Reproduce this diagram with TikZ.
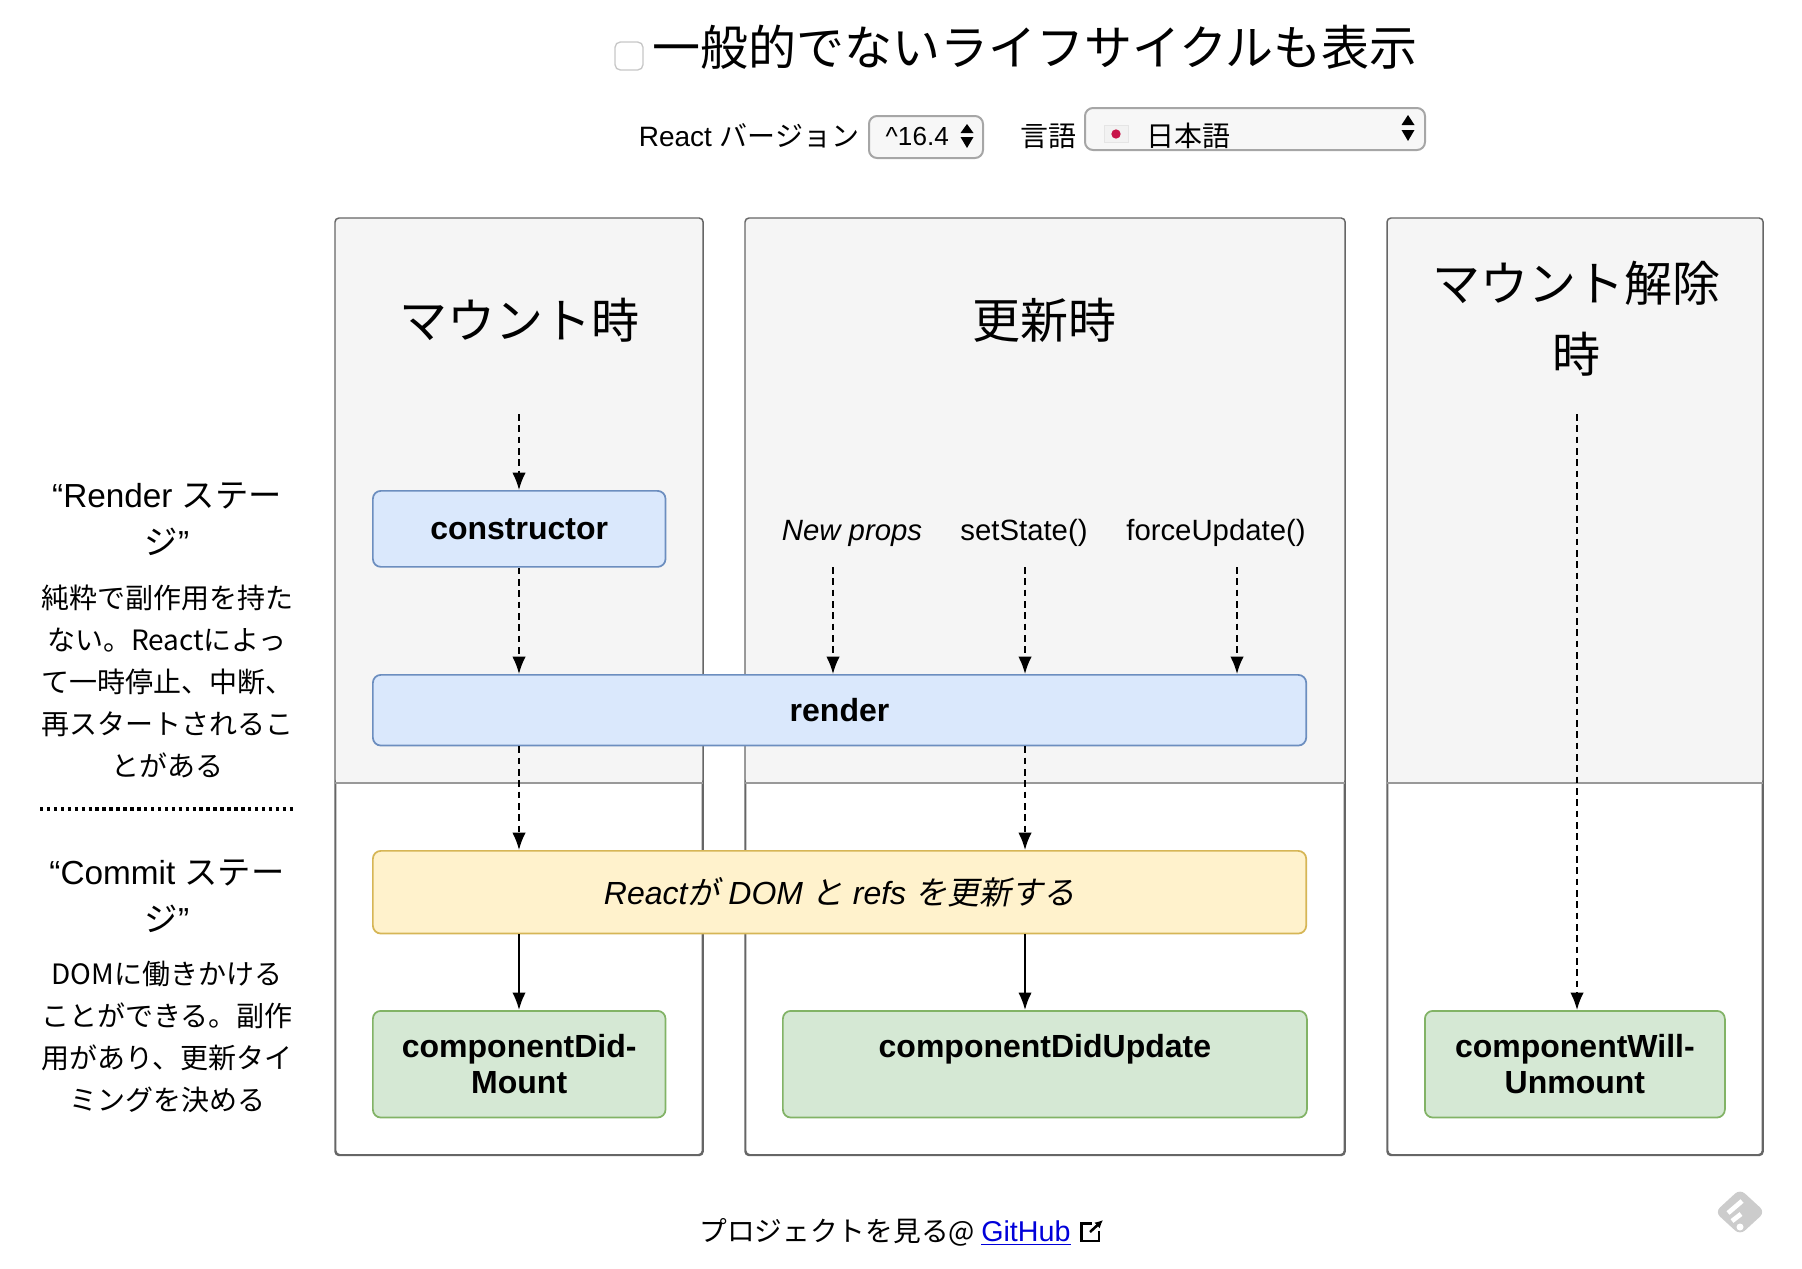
\documentclass[tikz,border=0pt]{standalone}
\usepackage{fontspec}
\setmainfont{Liberation Sans}
\newfontfamily\jp{Noto Sans CJK JP}
\newfontfamily\jpit[FakeSlant=0.2]{Noto Sans CJK JP}
\usetikzlibrary{arrows.meta,positioning}

\definecolor{panelfill}{HTML}{F5F5F5}
\definecolor{panelline}{HTML}{666666}
\definecolor{blueline}{HTML}{6C8EBF}
\definecolor{bluefill}{HTML}{DAE8FC}
\definecolor{yellowline}{HTML}{D6B656}
\definecolor{yellowfill}{HTML}{FFF2CC}
\definecolor{greenline}{HTML}{82B366}
\definecolor{greenfill}{HTML}{D5E8D4}
\definecolor{flagred}{HTML}{C8144A}

\begin{document}
\begin{tikzpicture}[x=0.75pt,y=-0.75pt]
		\tikzstyle{panel}=[rectangle, rounded corners=3pt, draw=panelline, line width=1.1pt, anchor=north west, inner sep=0pt]
		\tikzstyle{box}=[rectangle, rounded corners=6pt, line width=1.3pt, anchor=north west, inner sep=0pt, align=center, font=\fontsize{24}{27}\selectfont\bfseries]
		\tikzstyle{bluebox}=[box, draw=blueline, fill=bluefill]
		\tikzstyle{yellowbox}=[box, draw=yellowline, fill=yellowfill, font=\fontsize{24}{27}\selectfont\itshape]
		\tikzstyle{greenbox}=[box, draw=greenline, fill=greenfill]
		\tikzstyle{dashedarrow}=[line width=1.3pt, dash pattern=on 5pt off 3.5pt, -{Latex[length=13pt,width=10pt]}]
		\tikzstyle{solidarrow}=[line width=1.5pt, -{Latex[length=13pt,width=10pt]}]
		\tikzstyle{heading}=[font=\fontsize{36}{53.5}\selectfont\jp, align=center]
		\tikzstyle{phase}=[font=\fontsize{25}{35}\selectfont, align=center]
		\tikzstyle{phasetext}=[font=\fontsize{21}{31.5}\selectfont\jp, align=center]
		\tikzstyle{trigger}=[font=\fontsize{22}{26}\selectfont]
		\tikzstyle{selectbox}=[rectangle, rounded corners=6pt, draw=black!35, line width=1.5pt, fill=black!3, anchor=north west, inner sep=0pt]
		\useasboundingbox (0,0) rectangle (1802,1268);

		% top row
		\node[rectangle, rounded corners=4pt, draw=black!22, line width=1pt, fill=white, minimum width=21pt, minimum height=21pt, inner sep=0pt] (check) at (629,56) {};
		\node[font=\fontsize{36}{40}\selectfont\jp, right=3pt of check.east, yshift=6.5pt] (title) {一般的でないライフサイクルも表示};
		\node[trigger, font=\fontsize{21}{26}\selectfont] (version) at (749,136) {React {\jp バージョン}};
		\node[selectbox, minimum width=85.5pt, minimum height=31.5pt] (versionsel) at (868,115) {};
		\node[font=\fontsize{19.6}{26}\selectfont, anchor=west] (versionval) at (881,136) {\textasciicircum 16.4};
		\node[font=\fontsize{21}{26}\selectfont\jp] (lang) at (1048,136) {言語};
		\node[selectbox, minimum width=255pt, minimum height=31.5pt] (langsel) at (1084,107) {};
		\begin{scope}
			\clip (1085,108) rectangle (1423,148);
			\node[font=\fontsize{21}{26}\selectfont\jp, anchor=west, inner sep=0pt] (langval) at (1146,136) {日本語};
		\end{scope}
		\node[rectangle, draw=black!10, fill=black!5, minimum width=18pt, minimum height=12.5pt, inner sep=0pt] (flag) at (1116,134) {};
		\node[circle, fill=flagred, minimum size=7pt, inner sep=0pt] (sun) at (flag.center) {};
		\fill (967,124) -- (973.5,133) -- (960.5,133) -- cycle;
		\fill (967,148) -- (973.5,137) -- (960.5,137) -- cycle;
		\fill (1408,115) -- (1414.5,125) -- (1401.5,125) -- cycle;
		\fill (1408,141) -- (1414.5,130) -- (1401.5,130) -- cycle;

		% panels
		\node[panel, fill=white, minimum width=275pt, minimum height=702pt] (mount) at (335,218) {};
		\node[panel, fill=white, minimum width=449pt, minimum height=702pt] (update) at (745,218) {};
		\node[panel, fill=white, minimum width=281pt, minimum height=702pt] (unmount) at (1387,218) {};
		\foreach \p in {mount,update,unmount} {
			\fill[panelfill, rounded corners=3pt] (\p.north west) rectangle (\p.east |- 0,783);
			\draw[panelline, line width=1.1pt, rounded corners=3pt] (\p.north west) rectangle (\p.south east);
			\draw[black!40, line width=1.1pt] (\p.west |- 0,783) -- (\p.east |- 0,783);
		}
		\node[heading] (mounthead) at (519,320) {マウント時};
		\node[heading] (updatehead) at (1044,320) {更新時};
		\node[heading] (unmounthead) at (1576,319) {マウント解除\\時};

		% boxes
		\node[bluebox, minimum width=219.5pt, minimum height=57pt] (constructor) at (372,490) {constructor};
		\node[bluebox, minimum width=700pt, minimum height=53pt] (render) at (372,674) {render};
		\node[yellowbox, minimum width=700pt, minimum height=62pt] (commit) at (372,850) {React{\jpit が} DOM {\jpit と} refs {\jpit を更新する}};
		\node[greenbox, minimum width=219.5pt, minimum height=80pt] (didmount) at (372,1010) {componentDid-\\Mount};
		\node[greenbox, minimum width=393pt, minimum height=80pt] (didupdate) at (782,1010) {componentDidUpdate\\\phantom{Mount}};
		\node[greenbox, minimum width=225pt, minimum height=80pt] (willunmount) at (1424,1010) {componentWill-\\Unmount};

		% triggers
		\node[trigger] (newprops) at (852,533) {\itshape New props};
		\node[trigger] (setstate) at (1024,533) {setState()};
		\node[trigger] (force) at (1216,533) {forceUpdate()};

		\coordinate (mountin) at (519,414);
		\coordinate (unmountin) at (1577,414);
		\coordinate (propsin) at (833,567);
		\coordinate (statein) at (1025,567);
		\coordinate (forcein) at (1237,567);
		\coordinate (updatex) at (1025,0);

		\path
		(mountin) edge [dashedarrow] (mountin |- constructor.north)
		(constructor.south -| mountin) edge [dashedarrow] (render.north -| mountin)
		(propsin) edge [dashedarrow] (render.north -| propsin)
		(statein) edge [dashedarrow] (render.north -| statein)
		(forcein) edge [dashedarrow] (render.north -| forcein)
		(render.south -| mountin) edge [dashedarrow] (commit.north -| mountin)
		(render.south -| updatex) edge [dashedarrow] (commit.north -| updatex)
		(commit.south -| mountin) edge [solidarrow] (didmount.north -| mountin)
		(commit.south -| updatex) edge [solidarrow] (didupdate.north -| updatex)
		(unmountin) edge [dashedarrow] (willunmount.north -| unmountin)
		;

		% left column
		\node[phase] (renderhead) at (167,519) {“Render {\jp ステー}\\{\jp ジ}”};
		\node[phasetext] (rendertext) at (167,681) {純粋で副作用を持た\\ない。Reactによっ\\て一時停止、中断、\\再スタートされるこ\\とがある};
		\coordinate (dotleft) at (40,809);
		\coordinate (dotright) at (294,809);
		\draw[line width=2.6pt, dash pattern=on 2.6pt off 2.6pt] (dotleft) -- (dotright);
		\node[phase] (commithead) at (167,896) {“Commit {\jp ステー}\\{\jp ジ}”};
		\node[phasetext] (committext) at (167,1037) {DOMに働きかける\\ことができる。副作\\用があり、更新タイ\\ミングを決める};

		% footer
		\node[font=\fontsize{20.8}{26}\selectfont\jp, anchor=west, inner sep=0pt] (project) at (699,1232) {プロジェクトを見る@};
		\node[font=\fontsize{21.5}{26}\selectfont, text=blue!85!black, anchor=west, inner sep=0pt] (github) at (981,1233) {\underline{GitHub}};
		\draw[line width=1.9pt] (1092,1223.5) -- (1081.5,1223.5) -- (1081.5,1241) -- (1099,1241) -- (1099,1231);
		\draw[line width=1.9pt, -{Latex[length=6pt,width=6pt]}] (1090,1232) -- (1103,1220);
		% logo
		\fill[black!20, rounded corners=5pt] (1740,1189) -- (1765,1212) -- (1740,1235) -- (1715,1212) -- cycle;
		\draw[white, line width=3.5pt] (1728,1213) -- (1742,1201);
		\draw[white, line width=3.5pt] (1732,1221) -- (1741,1214);
		\fill[white] (1740,1227) circle (3.5);
\end{tikzpicture}
\end{document}
